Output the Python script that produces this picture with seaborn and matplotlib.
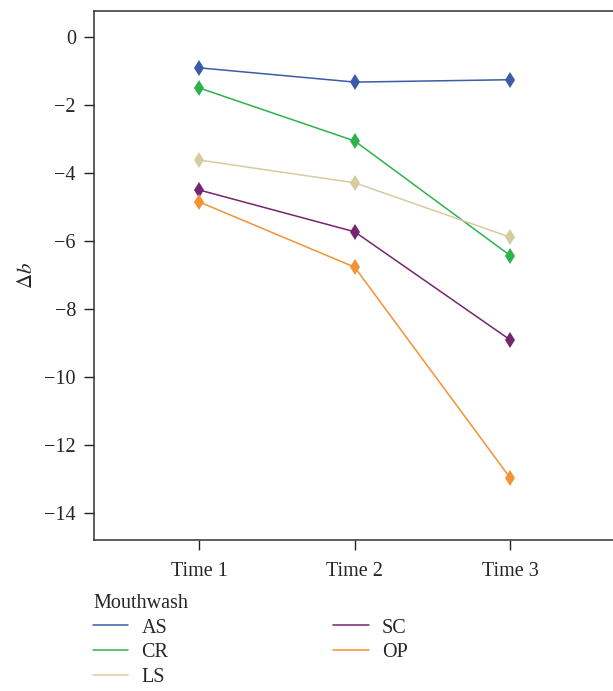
import pandas as pd
import matplotlib
matplotlib.use('Agg')
import matplotlib.pyplot as plt
import seaborn as sns

times = ['Time 1', 'Time 2', 'Time 3']
groups = ['AS', 'CR', 'LS', 'SC', 'OP']
as_vals = [-0.91, -1.33, -1.26]
cr_vals = [-1.50, -3.06, -6.43]
ls_vals = [-3.62, -4.29, -5.89]
sc_vals = [-4.50, -5.73, -8.91]
op_vals = [-4.85, -6.77, -12.97]
colors = ['#3b5ca8', '#2eb34c', '#d5cd9f', '#74266f', '#f39237']

rows = []
for g, vals in zip(groups, [as_vals, cr_vals, ls_vals, sc_vals, op_vals]):
    for t, v in zip(times, vals):
        rows.append({'Time': t, 'Mouthwash': g, 'db': v})
df = pd.DataFrame(rows)

sns.set_style('white')
plt.rcParams['font.family'] = ['Liberation Serif', 'DejaVu Serif']
plt.rcParams['mathtext.fontset'] = 'stix'

fig = plt.figure(figsize=(6.13, 6.91), dpi=100)
ax = fig.add_axes([94/613, 1 - 540/691, 1 - 94/613, 529/691])

sns.lineplot(data=df, x='Time', y='db', hue='Mouthwash', hue_order=groups,
             palette=colors, marker='d', markersize=8.5, markeredgewidth=0,
             linewidth=1.1, ax=ax, legend=False)

ax.set_xlim(-0.675, 2.66)
ax.set_ylim(-14.79, 0.76)
ax.set_yticks([0, -2, -4, -6, -8, -10, -12, -14])
ax.set_yticklabels(['0', '\u22122', '\u22124', '\u22126', '\u22128', '\u221210', '\u221212', '\u221214'])
ax.set_xlabel('')
ax.set_ylabel(r'$\Delta b$', fontsize=15, labelpad=5)
ax.tick_params(axis='both', labelsize=14.5, length=7, width=1, color='#222222', direction='out',
               left=True, bottom=True, pad=6)
ax.tick_params(axis='x', pad=9)
for side in ['left', 'bottom', 'top']:
    ax.spines[side].set_color('#333333')
    ax.spines[side].set_linewidth(1.1)
ax.spines['right'].set_visible(False)

handles = [plt.Line2D([], [], color=c, linewidth=1.1) for c in colors]
leg = fig.legend(handles, groups, loc='upper left', bbox_to_anchor=(93/613, 1 - 594/691),
                 ncol=2, frameon=False, title='Mouthwash', fontsize=14.5, title_fontsize=14.5,
                 handlelength=1.75, handletextpad=0.65, columnspacing=8.2, labelspacing=0.27,
                 borderpad=0.0, borderaxespad=0.0)
leg._legend_box.align = 'left'

fig.savefig('out.png', dpi=100)
plt.close()
